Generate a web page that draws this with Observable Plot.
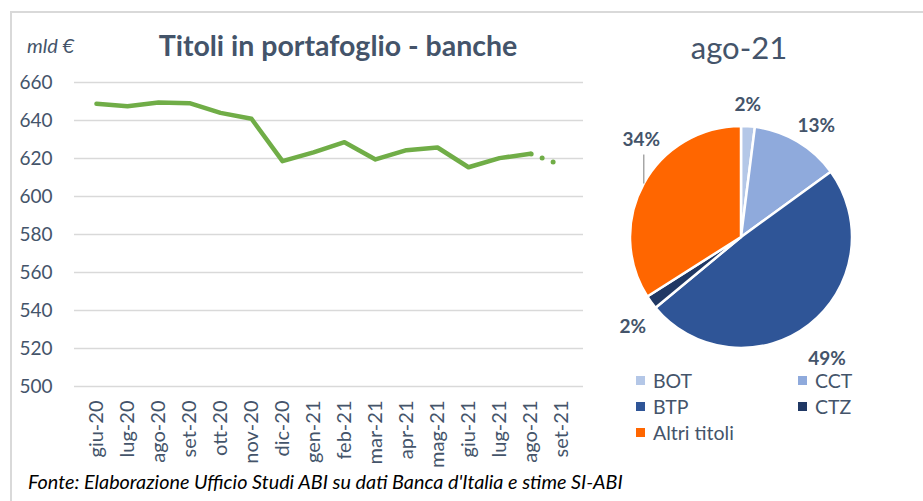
<!DOCTYPE html>
<html>
<head>
<meta charset="utf-8">
<script src="https://cdn.jsdelivr.net/npm/d3@7"></script>
<script src="https://cdn.jsdelivr.net/npm/@observablehq/plot@0.6"></script>
<style>
  html, body { margin: 0; padding: 0; background: #fff; }
  #wrap { position: relative; width: 923px; height: 501px; overflow: hidden; font-family: Lato, sans-serif; }
  .abs { position: absolute; white-space: nowrap; }
  #frame { position: absolute; left: 10px; top: 11px; width: 1000px; height: 600px; border-left: 2px solid #D9D9D9; border-top: 2px solid #D9D9D9; }
  #legend { position: absolute; left: 636px; top: 367px; display: grid; grid-template-columns: 162px 120px; font-size: 19.5px; color: #44546A; }
  #legend .item { display: flex; align-items: center; height: 26px; }
  #legend .sw { width: 9px; height: 9px; margin-right: 8px; }
</style>
</head>
<body>
<div id="wrap">
  <div id="frame"></div>
  <div id="unit" class="abs" style="left:27px; top:33px; font-size:20px; line-height:24px; font-style:italic; color:#44546A;">mld €</div>
  <div id="title" class="abs" style="left:338px; top:28px; transform:translateX(-50%); font-size:28.5px; line-height:34px; font-weight:bold; color:#44546A;">Titoli in portafoglio - banche</div>
  <div id="pieTitle" class="abs" style="left:739px; top:29px; transform:translateX(-50%); font-size:31px; line-height:37px; color:#44546A;">ago-21</div>
  <div id="lineChart" class="abs" style="left:0; top:0;"></div>
  <div id="pieChart" class="abs" style="left:600px; top:0;"></div>
  <div id="legend"></div>
  <div id="source" class="abs" style="left:28px; top:469px; font-size:19.8px; line-height:24px; font-style:italic; color:#000;">Fonte: Elaborazione Ufficio Studi ABI su dati Banca d'Italia e stime SI-ABI</div>
</div>
<script>
// ---- Data ----
const months = ["giu-20","lug-20","ago-20","set-20","ott-20","nov-20","dic-20","gen-21","feb-21","mar-21","apr-21","mag-21","giu-21","lug-21","ago-21","set-21"];
const values = [648.8, 647.5, 649.5, 649.1, 644.0, 640.9, 618.6, 623.2, 628.6, 619.5, 624.4, 625.8, 615.4, 620.2, 622.5]; // giu-20 .. ago-21
const estimateMonths = ["ago-21", "set-21"];
const estimateValues = [622.5, 616.5]; // stima
const yTicks = [500, 520, 540, 560, 580, 600, 620, 640, 660];

const categories = ["BOT", "CCT", "BTP", "CTZ", "Altri titoli"];
const shares = [2, 13, 49, 2, 34];
const sliceColors = ["#B4C7E7", "#8FAADC", "#2F5597", "#203864", "#FF6600"];

// ---- Line chart ----
const lineData = values.map((v, i) => ({month: months[i], value: v}));
const estData = estimateValues.map((v, i) => ({month: estimateMonths[i], value: v}));

const lineChart = Plot.plot({
  width: 600, height: 470,
  marginTop: 82, marginBottom: 84, marginLeft: 74, marginRight: 17,
  style: {fontFamily: "Lato, sans-serif", color: "#44546A", background: "transparent", overflow: "visible"},
  x: {type: "point", domain: months, padding: 0.5, align: 0.5},
  y: {domain: [500, 660]},
  marks: [
    Plot.gridY(yTicks, {stroke: "#D9D9D9", strokeOpacity: 1, strokeWidth: 1.5}),
    Plot.axisY(yTicks, {tickSize: 0, tickPadding: 22, label: null, fontSize: 19}),
    Plot.axisX({tickRotate: -90, tickSize: 0, tickPadding: 14, label: null, fontSize: 20}),
    Plot.lineY(lineData, {x: "month", y: "value", stroke: "#70AD47", strokeWidth: 4.5, strokeLinejoin: "round", strokeLinecap: "round"}),
    Plot.lineY(estData, {x: "month", y: "value", stroke: "#70AD47", strokeWidth: 5, strokeLinecap: "round", strokeDasharray: "0 11.7", strokeDashoffset: -0.7})
  ]
});
document.getElementById("lineChart").appendChild(lineChart);

// ---- Pie chart ----
const color = Plot.scale({color: {domain: categories, range: sliceColors}});
const pieArcs = d3.pie().sort(null).value(d => d)(shares);
const CX = 141, CY = 237, R = 111;
const K = 1.2;
const nudge = {"BOT": [-2, 0], "CCT": [7, 3], "BTP": [4, 16], "CTZ": [-1, 11]};
const labelData = [];
const leaderData = [];
categories.forEach((c, i) => {
  const a = (pieArcs[i].startAngle + pieArcs[i].endAngle) / 2;
  const sx = Math.sin(a), sy = Math.cos(a);
  const text = shares[i] + "%";
  if (c === "Altri titoli") {
    leaderData.push({x: sx, y1: sy, y2: sy + 29 / R});
    labelData.push({x: sx - 3 / R, y: sy + 44 / R, text});
  } else {
    const [dx, dy] = nudge[c] || [0, 0];
    labelData.push({x: K * sx + dx / R, y: K * sy - dy / R, text});
  }
});

// slices (and the leader line of the outside label) drawn through the plot's x/y scales
function pieMark(index, scales) {
  const cx = scales.x(0), cy = scales.y(0), r = scales.x(1) - scales.x(0);
  const arc = d3.arc().innerRadius(0).outerRadius(r);
  const g = d3.create("svg:g");
  g.append("g").attr("transform", `translate(${cx},${cy})`)
    .selectAll("path").data(pieArcs).join("path")
    .attr("d", arc)
    .attr("fill", (d, i) => color.apply(categories[i]))
    .attr("stroke", "#fff").attr("stroke-width", 2.5).attr("stroke-linejoin", "round");
  g.selectAll("line").data(leaderData).join("line")
    .attr("x1", d => scales.x(d.x)).attr("x2", d => scales.x(d.x))
    .attr("y1", d => scales.y(d.y1)).attr("y2", d => scales.y(d.y2))
    .attr("stroke", "#A6A6A6").attr("stroke-width", 1.5);
  return g.node();
}

const pieChart = Plot.plot({
  width: 323, height: 470,
  margin: 0,
  style: {fontFamily: "Lato, sans-serif", background: "transparent", overflow: "visible"},
  x: {domain: [-1, 1], range: [CX - R, CX + R], axis: null},
  y: {domain: [-1, 1], range: [CY + R, CY - R], axis: null},
  marks: [
    pieMark,
    Plot.text(labelData, {x: "x", y: "y", text: "text", fontSize: 19, fontWeight: "bold", fill: "#44546A", textAnchor: "middle"})
  ]
});
document.getElementById("pieChart").appendChild(pieChart);

// ---- Legend ----
const legend = document.getElementById("legend");
categories.forEach(c => {
  const item = document.createElement("div");
  item.className = "item";
  const sw = document.createElement("span");
  sw.className = "sw";
  sw.style.background = color.apply(c);
  const lab = document.createElement("span");
  lab.textContent = c;
  item.appendChild(sw); item.appendChild(lab);
  legend.appendChild(item);
});
</script>
</body>
</html>
